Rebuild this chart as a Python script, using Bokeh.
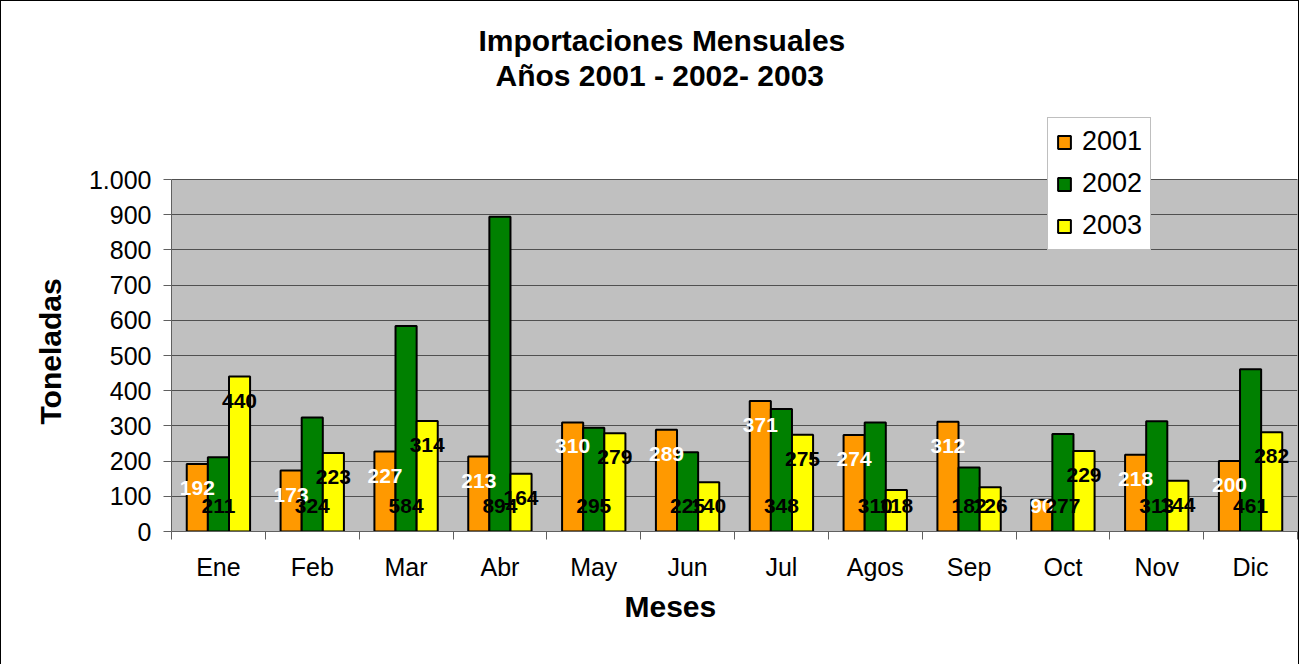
import numpy as np
from bokeh.plotting import figure
from bokeh.models import Range1d, FixedTicker, Legend, LegendItem, Title, BoxAnnotation
from bokeh.embed import file_html
from bokeh.resources import INLINE
from bokeh.core.properties import value

# ---- data ----
months = ["Ene", "Feb", "Mar", "Abr", "May", "Jun", "Jul", "Agos", "Sep", "Oct", "Nov", "Dic"]
series_names = ["2001", "2002", "2003"]
v2001 = [192, 173, 227, 213, 310, 289, 371, 274, 312, 90, 218, 200]
v2002 = [211, 324, 584, 894, 295, 225, 348, 310, 182, 277, 313, 461]
v2003 = [440, 223, 314, 164, 279, 140, 275, 118, 126, 229, 144, 282]
y_ticks = [0, 100, 200, 300, 400, 500, 600, 700, 800, 900, 1000]
y_tick_labels = ["0", "100", "200", "300", "400", "500", "600", "700", "800", "900", "1.000"]

colors = ["#FF9900", "#008000", "#FFFF00"]
FONT = "Liberation Sans"

# ---- layout (pixels) ----
W, H = 1299, 664
FRAME_TOP = 112          # frame extends above the grey plot area so the legend can overlap it
PLOT_TOP_GAP = 66        # grey area starts this far below the frame top
FRAME_BOTTOM = 134
LEFT, RIGHT = 170, 3

y_max = y_ticks[-1]
frame_h = H - FRAME_TOP - FRAME_BOTTOM
y_end = y_max * frame_h / (frame_h - PLOT_TOP_GAP)

n = len(months)
xc = np.arange(n) + 0.5
bw = 0.225
offsets = [-bw, 0.0, bw]

p = figure(width=W, height=H, output_backend="svg", toolbar_location=None,
           x_range=Range1d(0, n), y_range=Range1d(0, y_end),
           min_border_left=LEFT, min_border_right=RIGHT,
           min_border_top=FRAME_TOP, min_border_bottom=FRAME_BOTTOM)
p.styles = {"border-top": "1px solid black", "border-left": "1px solid black",
            "border-right": "1px solid black"}

p.background_fill_color = "white"
p.border_fill_color = "white"
p.outline_line_color = None

# grey plot area 0..1000
p.add_layout(BoxAnnotation(bottom=0, top=y_max, fill_color="#C0C0C0", fill_alpha=1.0,
                           line_color="#808080", line_width=1, line_alpha=1.0, level="image"))

renderers = []
for vals, col, off in zip([v2001, v2002, v2003], colors, offsets):
    r = p.vbar(x=xc + off, top=vals, width=bw, bottom=0, fill_color=col,
               line_color="black", line_width=2)
    renderers.append(r)

lbl_common = dict(text_font=value(FONT), text_font_style="bold", text_font_size="21px",
                  text_align="center", text_baseline="middle")
# 2001: inside end, white
p.text(x=xc + offsets[0], y=np.maximum(v2001, 142), text=[str(v) for v in v2001],
       text_color="white", y_offset=24, **lbl_common)
# 2002: inside base, black
p.text(x=xc + offsets[1], y=np.zeros(n), text=[str(v) for v in v2002],
       text_color="black", y_offset=-26, **lbl_common)
# 2003: inside end, black
p.text(x=xc + offsets[2], y=np.maximum(v2003, 142), text=[str(v) for v in v2003],
       text_color="black", y_offset=24, **lbl_common)

# axes
p.xaxis.ticker = FixedTicker(ticks=list(xc), minor_ticks=list(range(n + 1)))
p.xaxis.major_label_overrides = {float(x): m for x, m in zip(xc, months)}
p.xaxis.major_tick_line_color = None
p.xaxis.major_tick_out = 8
p.xaxis.major_tick_in = 0
p.xaxis.minor_tick_out = 8
p.xaxis.minor_tick_in = 0
p.xaxis.minor_tick_line_color = "#606060"
p.xaxis.axis_line_color = "#606060"
p.xaxis.major_label_standoff = 13
p.xaxis.major_label_text_font = FONT
p.xaxis.major_label_text_font_size = "25px"
p.xaxis.major_label_text_color = "black"

p.yaxis.ticker = FixedTicker(ticks=y_ticks, minor_ticks=[])
p.yaxis.bounds = (0, y_max)
p.yaxis.major_label_overrides = {t: l for t, l in zip(y_ticks, y_tick_labels)}
p.yaxis.major_tick_out = 8
p.yaxis.major_tick_in = 0
p.yaxis.major_tick_line_color = "#606060"
p.yaxis.axis_line_color = "#606060"
p.yaxis.major_label_standoff = 12
p.yaxis.major_label_text_font = FONT
p.yaxis.major_label_text_font_size = "25px"
p.yaxis.major_label_text_color = "black"

p.xgrid.visible = False
p.ygrid.ticker = FixedTicker(ticks=y_ticks, minor_ticks=[])
p.ygrid.bounds = (0, y_max)
p.ygrid.grid_line_color = "#505050"
p.ygrid.grid_line_width = 1

# titles (first added sits closest to the plot; p.title is outermost)
title_style = dict(text_font=FONT, text_font_size="30px", text_font_style="bold",
                   text_color="black")
p.title.text = "Importaciones Mensuales"
p.title.align = "left"
p.title.offset = 307
p.title.standoff = 0
for k, v in title_style.items():
    setattr(p.title, k, v)
p.add_layout(Title(text=" ", standoff=0, text_font=FONT, text_font_size="18px"), "above")
p.add_layout(Title(text="Años 2001 - 2002- 2003", align="left", offset=324, standoff=0,
                   **title_style), "above")
p.add_layout(Title(text="Meses", align="left", offset=453, standoff=8, **title_style), "below")
p.add_layout(Title(text="Toneladas", align="left", offset=107, standoff=38, **title_style), "left")

legend = Legend(items=[LegendItem(label=s, renderers=[r]) for s, r in zip(series_names, renderers)],
                location=(876, 281), orientation="vertical",
                label_text_font=FONT, label_text_font_size="27px", label_text_color="black",
                glyph_width=16, glyph_height=16, label_standoff=10, spacing=11,
                padding=8, margin=0, border_line_color="#808080", border_line_width=1,
                background_fill_color="white", background_fill_alpha=1.0)
p.add_layout(legend)

open("out.html", "w").write(file_html(p, INLINE))
